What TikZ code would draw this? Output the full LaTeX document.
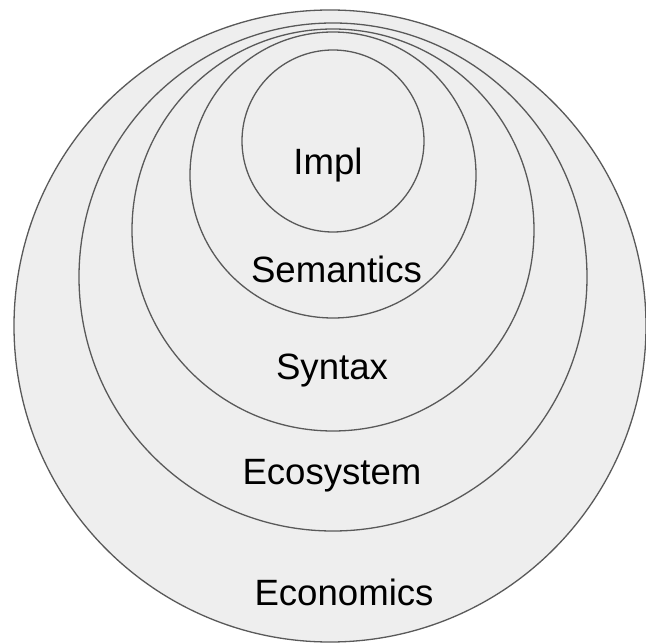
\documentclass[tikz,border=0pt]{standalone}
\usepackage{fontspec}
\setmainfont{Liberation Sans}
\definecolor{ringfill}{HTML}{EEEEEE}
\definecolor{ringline}{HTML}{595959}
\tikzset{
  ring/.style={draw=ringline, fill=ringfill, line width=1.3pt},
  lbl/.style={anchor=base, inner sep=0pt, font=\fontsize{36.6}{44}\selectfont, text=black}
}
\begin{document}
\begin{tikzpicture}[x=1pt,y=-1pt]
\useasboundingbox (0,0) rectangle (646,644);
\draw[ring] (330,326) circle[radius=316pt];
\draw[ring] (333,277) circle[radius=254pt];
\draw[ring] (333,230) circle[radius=201pt];
\draw[ring] (333,175) circle[radius=143pt];
\draw[ring] (333,141) circle[radius=91pt];
\node[lbl] (impl) at (328,175) {Impl};
\node[lbl] (sem) at (336.5,283) {Semantics};
\node[lbl] (syn) at (332,380) {Syntax};
\node[lbl] (eco) at (332,485) {Ecosystem};
\node[lbl] (econ) at (344,605) {Economics};
\end{tikzpicture}
\end{document}
